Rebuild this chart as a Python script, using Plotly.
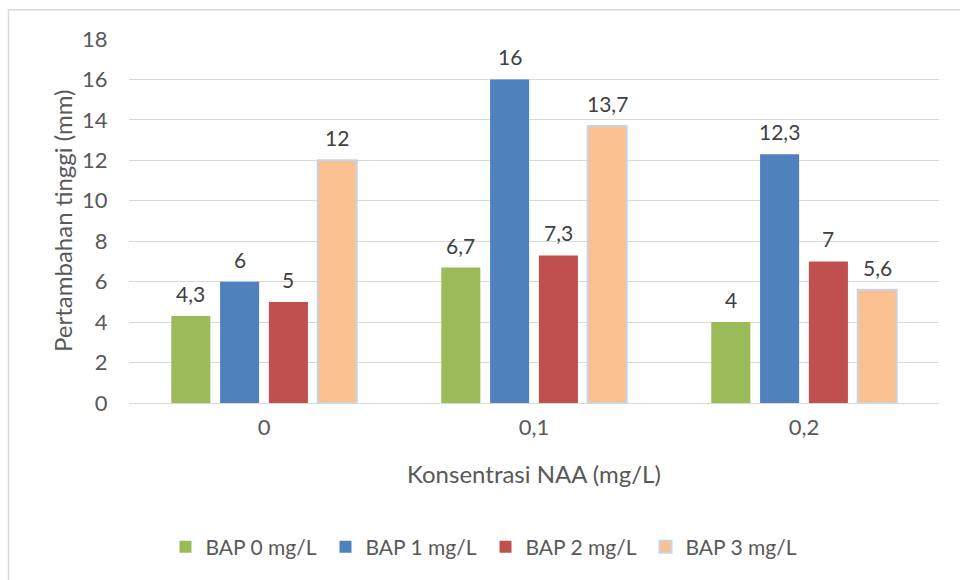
import plotly.graph_objects as go

# Data
categories = ["0", "0,1", "0,2"]
series_names = ["BAP 0 mg/L", "BAP 1 mg/L", "BAP 2 mg/L", "BAP 3 mg/L"]
bap0 = [4.3, 6.7, 4]
bap1 = [6, 16, 12.3]
bap2 = [5, 7.3, 7]
bap3 = [12, 13.7, 5.6]
y_ticks = [0, 2, 4, 6, 8, 10, 12, 14, 16, 18]

series_values = [bap0, bap1, bap2, bap3]
colors = ["#9BBB59", "#4F81BD", "#C0504D", "#FAC090"]
outline = [None, None, None, "#C6D4E8"]

FONT = "Lato"
TEXT = "#595959"
LABEL = "#404040"
BARGAP = 0.277
GROUPGAP = 0.2

W, H = 960, 580
L, R, T, B = 129, 21, 39, 173.5
pw, ph = W - L - R, H - T - B


def px_x(px):
    return (px - L) / pw


def px_y(py):
    return (H - B - py) / ph


def fmt(v):
    return ("%g" % v).replace(".", ",")


x_pos = list(range(len(categories)))
fig = go.Figure()
for name, vals, col, ln in zip(series_names, series_values, colors, outline):
    fig.add_trace(go.Bar(
        name=name, x=x_pos, y=vals,
        marker=dict(color=col,
                    line=dict(color=ln if ln else col, width=2 if ln else 0)),
    ))

# value labels above each bar
slot = (1 - BARGAP) / len(series_values)
annotations = []
for k, vals in enumerate(series_values):
    off = (k - (len(series_values) - 1) / 2) * slot
    for i, v in enumerate(vals):
        annotations.append(dict(
            x=x_pos[i] + off, y=v, xref="x", yref="y", text=fmt(v),
            showarrow=False, yanchor="bottom", yshift=8,
            font=dict(family=FONT, size=21, color=LABEL)))

annotations.append(dict(
    x=px_x(62), y=0.5, xref="paper", yref="paper",
    text="Pertambahan tinggi (mm)", textangle=-90, showarrow=False,
    xanchor="center", yanchor="middle",
    font=dict(family=FONT, size=24, color=TEXT)))
annotations.append(dict(
    x=0.5, y=px_y(478), xref="paper", yref="paper",
    text="Konsentrasi NAA (mg/L)", showarrow=False,
    xanchor="center", yanchor="middle",
    font=dict(family=FONT, size=24, color=TEXT)))

fig.update_layout(
    width=W, height=H,
    margin=dict(l=L, r=R, t=T, b=B),
    paper_bgcolor="white", plot_bgcolor="white",
    barmode="group", bargap=BARGAP, bargroupgap=GROUPGAP,
    font=dict(family=FONT, size=21, color=TEXT),
    showlegend=True,
    legend=dict(orientation="h", x=px_x(485.5), xanchor="center",
                y=px_y(552), yanchor="middle",
                font=dict(family=FONT, size=21, color=TEXT),
                itemwidth=30, traceorder="normal",
                entrywidth=115, entrywidthmode="pixels"),
    annotations=annotations,
    shapes=[dict(type="rect", xref="paper", yref="paper",
                 x0=px_x(8.5), x1=px_x(975), y0=px_y(590), y1=px_y(9.5),
                 line=dict(color="#D9D9D9", width=1.5), layer="below")],
)
fig.update_xaxes(
    range=[-0.5, len(categories) - 0.5],
    tickvals=x_pos, ticktext=categories,
    showgrid=False, zeroline=False, showline=False,
    ticks="outside", ticklen=5, tickcolor="rgba(0,0,0,0)",
    tickfont=dict(family=FONT, size=22, color=TEXT),
)
fig.update_yaxes(
    range=[0, 18], tickvals=y_ticks,
    showgrid=True, gridcolor="#D9D9D9", gridwidth=1,
    zeroline=True, zerolinecolor="#D9D9D9", zerolinewidth=1,
    showline=False, ticks="outside", ticklen=16, tickcolor="rgba(0,0,0,0)",
    tickfont=dict(family=FONT, size=22, color=TEXT),
)

fig.write_html("out.html")
